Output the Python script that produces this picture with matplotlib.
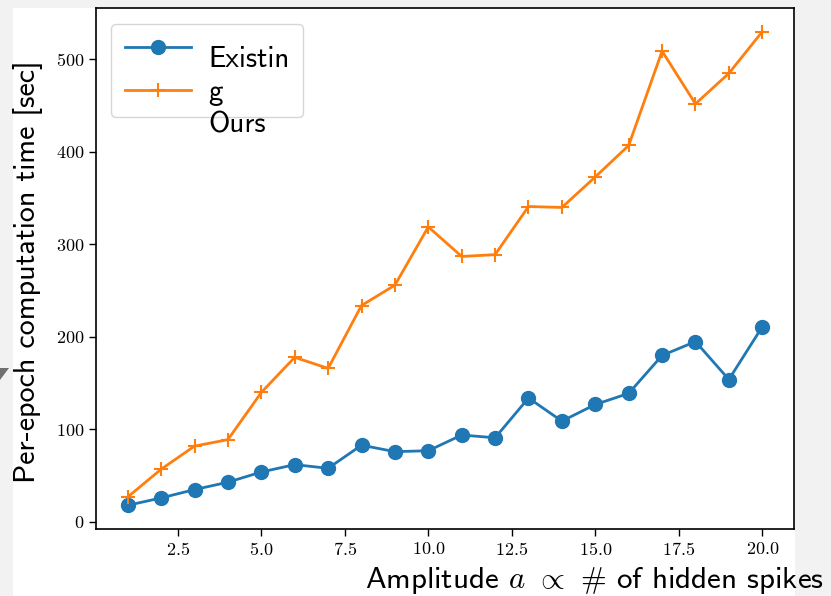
import matplotlib
matplotlib.use("Agg")
import matplotlib.pyplot as plt
from matplotlib.patches import Rectangle, Polygon
from matplotlib.lines import Line2D
from matplotlib.ticker import FuncFormatter

plt.rcParams['mathtext.fontset'] = 'cm'
plt.rcParams['font.family'] = ['cmss10', 'DejaVu Sans']
plt.rcParams['axes.unicode_minus'] = False

# amplitude a (number of hidden spikes)
amp = list(range(1, 21))
existing = [18, 26, 35, 43, 54, 62, 58, 83, 76, 77,
            94, 91, 134, 109, 127, 139, 180, 195, 154, 211]
ours = [27, 57, 82, 89, 140, 178, 166, 234, 256, 319,
        287, 289, 341, 340, 373, 407, 509, 452, 485, 530]

W, H = 831, 596
fig = plt.figure(figsize=(W / 100, H / 100), dpi=100, facecolor='#f2f2f2')
# white page area of the screenshot
fig.patches.append(Rectangle((13 / W, 0), (795 - 13) / W, 1 - 8 / H,
                             transform=fig.transFigure, facecolor='white',
                             edgecolor='none', zorder=-10))
fig.patches.append(Polygon([(0, 1 - 368 / H), (9 / W, 1 - 368 / H), (0, 1 - 380 / H)],
                           closed=True, transform=fig.transFigure,
                           facecolor='#707070', edgecolor='none'))

ax = fig.add_axes([96 / W, 1 - 529 / H, (794 - 96) / W, (529 - 8) / H])
ax.set_facecolor('white')

ax.plot(amp, existing, 'o-', color='#1f77b4', lw=2, ms=10)
ax.plot(amp, ours, '+-', color='#ff7f0e', lw=2, ms=10, mew=1.5)

ax.xaxis.set_major_formatter(FuncFormatter(lambda v, p: f'${v:.1f}$'))
ax.yaxis.set_major_formatter(FuncFormatter(lambda v, p: f'${v:.0f}$'))
ax.tick_params(labelsize=13, length=5, width=1)
for s in ax.spines.values():
    s.set_linewidth(1.2)

ax.set_xlabel(r'Amplitude $a$ $\propto$ # of hidden spikes', fontsize=22.3)
ax.set_ylabel('Per-epoch computation time [sec]', fontsize=21.6)
ax.xaxis.set_label_coords((594 - 96) / 698, (529 - 580) / 521)
ax.xaxis.label.set_va('center')
ax.yaxis.set_label_coords((28 - 96) / 698, (529 - 272) / 521)
ax.yaxis.label.set_va('center')

handles = [Line2D([], [], marker='o', color='#1f77b4', lw=2, ms=10),
           Line2D([], [], marker='+', color='#ff7f0e', lw=2, ms=10, mew=1.5)]
leg = ax.legend(handles, ['Existinr', 'Ours'], loc='upper left',
                bbox_to_anchor=((111 - 96) / 698, (529 - 24) / 521),
                borderaxespad=0, fontsize=18, handlelength=2.64,
                labelspacing=0.78, handletextpad=0.8, borderpad=0.55)
for t in leg.get_texts():
    t.set_alpha(0)
fig.text(208 / W, 1 - 46 / H, 'Existin\ng\nOurs', fontsize=21, va='top', ha='left',
         linespacing=1.27)

fig.savefig('out.png', dpi=100, facecolor=fig.get_facecolor())
